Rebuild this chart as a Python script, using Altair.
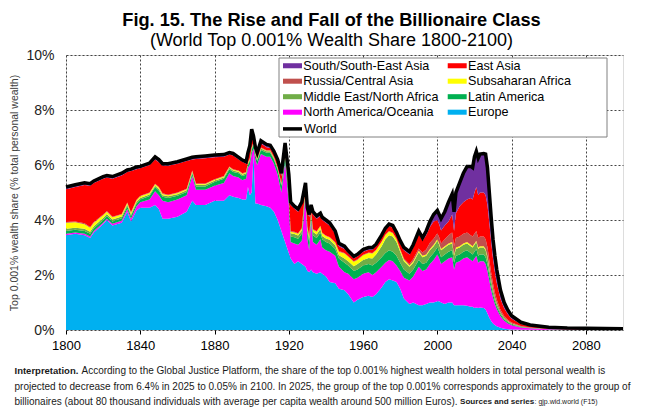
import altair as alt
import pandas as pd

# ---------------- data (share of total personal wealth, %) ----------------
years = [1800, 1805, 1810, 1813, 1815, 1820, 1822, 1825, 1830, 1833, 1835, 1838, 1840, 1845, 1848,
         1850, 1852, 1855, 1860, 1865, 1868, 1870, 1875, 1880, 1885, 1888, 1890, 1893, 1895, 1897,
         1898, 1899, 1900, 1901, 1902, 1903, 1905, 1908, 1910, 1912, 1914, 1916, 1918, 1920, 1921,
         1923, 1925, 1927, 1929, 1930, 1931, 1932, 1933, 1935, 1937, 1938, 1940, 1942, 1945, 1947,
         1950, 1952, 1955, 1957, 1960, 1963, 1965, 1967, 1970, 1972, 1974, 1976, 1978, 1980, 1982,
         1985, 1987, 1990, 1992, 1994, 1996, 1998, 2000, 2001, 2002, 2004, 2006, 2008, 2009, 2010,
         2012, 2014, 2016, 2018, 2019, 2020, 2021, 2022, 2023, 2025, 2026, 2027, 2028, 2029, 2030,
         2031, 2032, 2034, 2036, 2038, 2040, 2045, 2050, 2060, 2070, 2080, 2090, 2100]

europe = [3.45, 3.50, 3.45, 3.35, 3.55, 3.85, 4.00, 3.80, 3.90, 4.30, 3.95, 4.35, 4.45, 4.45, 4.55,
          4.40, 4.05, 4.05, 4.12, 4.30, 4.70, 4.55, 4.55, 4.70, 4.70, 4.90, 4.85, 4.80, 4.75, 4.75,
          5.20, 4.90, 5.00, 6.40, 4.60, 4.60, 4.55, 4.50, 4.45, 4.30, 4.00, 3.60, 3.20, 2.80, 2.60,
          2.40, 2.50, 2.40, 2.30, 2.15, 2.10, 2.20, 2.10, 2.05, 2.10, 2.05, 1.95, 1.75, 1.70, 1.50,
          1.45, 1.30, 1.00, 1.10, 1.20, 1.25, 1.20, 1.30, 1.55, 1.75, 1.85, 1.80, 1.75, 1.50, 1.15,
          0.95, 1.00, 0.90, 0.90, 0.95, 1.00, 1.00, 1.05, 1.05, 1.00, 0.95, 1.00, 1.00, 0.90, 0.90,
          0.90, 0.90, 0.88, 0.85, 0.85, 0.80, 0.82, 0.80, 0.82, 0.80, 0.75, 0.60, 0.45, 0.33, 0.24,
          0.18, 0.14, 0.08, 0.05, 0.03, 0.02, 0.01, 0.01, 0.00, 0.00, 0.00, 0.00, 0.00]

north_america = [0.05, 0.05, 0.05, 0.05, 0.05, 0.05, 0.05, 0.06, 0.07, 0.10, 0.10, 0.15, 0.20, 0.30, 0.50,
                 0.50, 0.65, 0.60, 0.63, 0.60, 0.90, 0.55, 0.55, 0.55, 0.65, 0.80, 0.75, 0.75, 0.70, 0.75,
                 0.70, 1.10, 1.40, 0.20, 1.60, 1.40, 1.85, 1.80, 1.85, 1.75, 1.65, 1.40, 2.90, 1.80, 0.60,
                 0.75, 0.60, 0.85, 2.60, 1.15, 0.80, 1.80, 1.10, 1.05, 1.20, 0.95, 0.95, 1.10, 1.00, 0.80,
                 0.65, 0.75, 0.85, 0.80, 0.85, 0.85, 0.80, 0.80, 0.75, 0.70, 0.70, 0.70, 0.60, 0.65, 0.75,
                 0.85, 0.95, 1.40, 1.25, 1.25, 1.40, 1.55, 1.70, 1.55, 1.40, 1.55, 1.60, 1.65, 1.30, 1.55,
                 1.60, 1.70, 1.77, 1.70, 1.65, 1.80, 1.88, 1.65, 1.68, 1.70, 1.65, 1.55, 1.35, 1.12, 0.92,
                 0.76, 0.62, 0.42, 0.29, 0.21, 0.15, 0.08, 0.05, 0.03, 0.02, 0.02, 0.02, 0.015]

latin_america = [0.10, 0.10, 0.10, 0.10, 0.10, 0.10, 0.10, 0.09, 0.09, 0.10, 0.10, 0.10, 0.10, 0.12, 0.15,
                 0.17, 0.15, 0.15, 0.13, 0.12, 0.10, 0.12, 0.12, 0.13, 0.15, 0.15, 0.15, 0.15, 0.15, 0.15,
                 0.10, 0.15, 0.15, 0.15, 0.15, 0.15, 0.15, 0.15, 0.15, 0.15, 0.18, 0.25, 0.25, 0.30, 0.20,
                 0.22, 0.22, 0.25, 0.15, 0.25, 0.30, 0.20, 0.25, 0.25, 0.25, 0.30, 0.30, 0.30, 0.25, 0.30,
                 0.35, 0.30, 0.30, 0.30, 0.30, 0.30, 0.35, 0.35, 0.35, 0.35, 0.35, 0.35, 0.35, 0.30, 0.30,
                 0.25, 0.25, 0.25, 0.25, 0.25, 0.25, 0.25, 0.25, 0.25, 0.25, 0.25, 0.25, 0.25, 0.25, 0.25,
                 0.25, 0.25, 0.25, 0.25, 0.25, 0.25, 0.25, 0.25, 0.25, 0.25, 0.25, 0.24, 0.21, 0.18, 0.15,
                 0.12, 0.10, 0.07, 0.05, 0.04, 0.03, 0.02, 0.01, 0.01, 0.00, 0.00, 0.00, 0.00]

mena = [0.08, 0.07, 0.08, 0.07, 0.07, 0.07, 0.07, 0.07, 0.07, 0.06, 0.05, 0.06, 0.05, 0.06, 0.05,
        0.06, 0.05, 0.06, 0.06, 0.06, 0.05, 0.06, 0.06, 0.05, 0.05, 0.05, 0.05, 0.05, 0.05, 0.05,
        0.05, 0.05, 0.05, 0.05, 0.05, 0.05, 0.05, 0.05, 0.05, 0.05, 0.05, 0.05, 0.05, 0.10, 0.12,
        0.12, 0.12, 0.12, 0.07, 0.12, 0.12, 0.08, 0.12, 0.12, 0.12, 0.12, 0.13, 0.13, 0.13, 0.12,
        0.15, 0.15, 0.17, 0.20, 0.20, 0.22, 0.25, 0.30, 0.40, 0.50, 0.55, 0.55, 0.50, 0.40, 0.30,
        0.25, 0.25, 0.28, 0.25, 0.25, 0.25, 0.25, 0.25, 0.25, 0.25, 0.25, 0.25, 0.25, 0.25, 0.25,
        0.25, 0.25, 0.25, 0.25, 0.25, 0.25, 0.25, 0.25, 0.25, 0.25, 0.25, 0.24, 0.21, 0.18, 0.15,
        0.12, 0.10, 0.07, 0.05, 0.04, 0.03, 0.02, 0.01, 0.01, 0.01, 0.00, 0.00, 0.00]

subsaharan = [0.22, 0.20, 0.17, 0.15, 0.13, 0.10, 0.08, 0.08, 0.07, 0.06, 0.06, 0.06, 0.06, 0.05, 0.05,
              0.05, 0.05, 0.04, 0.04, 0.04, 0.03, 0.03, 0.03, 0.03, 0.03, 0.03, 0.03, 0.03, 0.03, 0.03,
              0.03, 0.03, 0.03, 0.02, 0.02, 0.02, 0.02, 0.02, 0.02, 0.02, 0.02, 0.03, 0.03, 0.05, 0.05,
              0.06, 0.06, 0.06, 0.05, 0.08, 0.08, 0.05, 0.08, 0.10, 0.10, 0.10, 0.09, 0.08, 0.09, 0.13,
              0.18, 0.16, 0.16, 0.15, 0.17, 0.18, 0.18, 0.15, 0.15, 0.15, 0.13, 0.12, 0.10, 0.07, 0.06,
              0.05, 0.05, 0.05, 0.05, 0.05, 0.05, 0.05, 0.05, 0.05, 0.05, 0.05, 0.05, 0.05, 0.05, 0.05,
              0.05, 0.05, 0.05, 0.05, 0.05, 0.05, 0.05, 0.05, 0.05, 0.05, 0.05, 0.05, 0.04, 0.03, 0.03,
              0.02, 0.02, 0.01, 0.01, 0.01, 0.01, 0.00, 0.00, 0.00, 0.00, 0.00, 0.00, 0.00]

russia = [0.03, 0.03, 0.03, 0.03, 0.03, 0.03, 0.03, 0.02, 0.02, 0.02, 0.02, 0.02, 0.02, 0.02, 0.02,
          0.02, 0.02, 0.02, 0.02, 0.02, 0.02, 0.02, 0.02, 0.02, 0.02, 0.02, 0.02, 0.02, 0.02, 0.02,
          0.02, 0.02, 0.02, 0.02, 0.02, 0.02, 0.02, 0.02, 0.02, 0.02, 0.02, 0.02, 0.02, 0.02, 0.02,
          0.02, 0.02, 0.02, 0.02, 0.02, 0.02, 0.02, 0.02, 0.02, 0.02, 0.02, 0.02, 0.02, 0.02, 0.02,
          0.02, 0.02, 0.02, 0.02, 0.02, 0.02, 0.02, 0.02, 0.02, 0.02, 0.02, 0.02, 0.02, 0.02, 0.04,
          0.05, 0.08, 0.08, 0.12, 0.18, 0.22, 0.22, 0.22, 0.22, 0.20, 0.25, 0.30, 0.35, 0.30, 0.35,
          0.35, 0.35, 0.35, 0.35, 0.35, 0.35, 0.35, 0.35, 0.35, 0.35, 0.35, 0.33, 0.29, 0.24, 0.20,
          0.16, 0.13, 0.09, 0.06, 0.04, 0.03, 0.02, 0.01, 0.00, 0.00, 0.00, 0.00, 0.00]

east_asia = [1.19, 1.25, 1.39, 1.50, 1.42, 1.30, 1.22, 1.38, 1.40, 1.11, 1.50, 1.11, 1.00, 1.00, 0.88,
             0.90, 1.01, 1.05, 1.05, 1.01, 0.40, 0.89, 0.92, 0.80, 0.70, 0.43, 0.50, 0.40, 0.42, 0.30,
             0.25, 0.35, 0.50, 0.11, 0.11, 0.11, 0.14, 0.11, 0.08, 0.11, 0.18, 0.25, 0.25, 0.50, 0.96,
             0.85, 0.78, 0.85, 0.06, 0.58, 0.68, 0.10, 0.53, 0.46, 0.36, 0.46, 0.46, 0.42, 0.31, 0.18,
             0.15, 0.12, 0.10, 0.11, 0.11, 0.10, 0.12, 0.13, 0.16, 0.15, 0.18, 0.18, 0.16, 0.21, 0.30,
             0.35, 0.42, 0.54, 0.43, 0.52, 0.58, 0.63, 0.48, 0.48, 0.47, 0.50, 0.50, 0.65, 0.55, 0.90,
             1.10, 1.15, 1.20, 1.35, 1.35, 1.50, 1.60, 1.55, 1.60, 1.60, 1.60, 1.54, 1.35, 1.12, 0.90,
             0.75, 0.61, 0.40, 0.28, 0.20, 0.14, 0.07, 0.05, 0.03, 0.02, 0.02, 0.02, 0.02]

south_asia = [0.08, 0.08, 0.08, 0.07, 0.07, 0.08, 0.07, 0.08, 0.08, 0.07, 0.07, 0.08, 0.07, 0.07, 0.10,
              0.10, 0.07, 0.08, 0.07, 0.07, 0.08, 0.08, 0.08, 0.08, 0.08, 0.07, 0.07, 0.08, 0.06, 0.07,
              0.10, 0.10, 0.15, 0.10, 0.10, 0.10, 0.10, 0.10, 0.10, 0.10, 0.10, 0.10, 0.10, 0.10, 0.10,
              0.08, 0.10, 0.10, 0.10, 0.10, 0.10, 0.10, 0.10, 0.10, 0.10, 0.10, 0.10, 0.10, 0.10, 0.10,
              0.10, 0.08, 0.08, 0.07, 0.08, 0.08, 0.08, 0.07, 0.07, 0.08, 0.07, 0.08, 0.07, 0.10, 0.10,
              0.10, 0.10, 0.10, 0.10, 0.15, 0.20, 0.25, 0.35, 0.35, 0.43, 0.50, 0.70, 0.75, 0.70, 0.75,
              0.85, 1.05, 1.20, 1.15, 1.15, 1.30, 1.30, 1.35, 1.40, 1.42, 1.50, 1.35, 1.10, 0.90, 0.71,
              0.59, 0.48, 0.31, 0.21, 0.15, 0.11, 0.06, 0.04, 0.02, 0.02, 0.02, 0.015, 0.015]

# stacking order, bottom to top
stack_series = [
    ("Europe", europe),
    ("North America/Oceania", north_america),
    ("Latin America", latin_america),
    ("Middle East/North Africa", mena),
    ("Subsaharan Africa", subsaharan),
    ("Russia/Central Asia", russia),
    ("East Asia", east_asia),
    ("South/South-East Asia", south_asia),
]

legend_order = ["South/South-East Asia", "East Asia", "Russia/Central Asia", "Subsaharan Africa",
                "Middle East/North Africa", "Latin America", "North America/Oceania", "Europe"]
legend_colors = ["#7030A0", "#FF0000", "#C0504D", "#FFFF00",
                 "#70AD47", "#00B050", "#FF00FF", "#00B0F0"]

x_ticks = list(range(1800, 2101, 20))
y_ticks = [0, 2, 4, 6, 8, 10]

title_text = "Fig. 15. The Rise and Fall of the Billionaire Class"
subtitle_text = "(World Top 0.001% Wealth Share 1800-2100)"
y_title = "Top 0.001% wealth share (% total personal wealth)"

note1_bold = "Interpretation."
note1_rest = "According to the Global Justice Platform, the share of the top 0.001% highest wealth holders in total personal wealth is"
note2 = "projected to decrease from 6.4% in 2025 to 0.05% in 2100. In 2025, the group of the top 0.001% corresponds approximately to the group of"
note3_a = "billionaires (about 80 thousand individuals with average per capita wealth around 500 million Euros)."
note3_bold = "Sources and series"
note3_c = ": gjp.wid.world (F15)"

# ---------------- build table ----------------
rows = []
for rank, (name, vals) in enumerate(stack_series):
    for yr, v in zip(years, vals):
        rows.append({"year": yr, "region": name, "value": v, "rank": rank})
df = pd.DataFrame(rows)

FONT = "Liberation Sans"

x_scale = alt.Scale(domain=[1800, 2100], nice=False, zero=False)
y_scale = alt.Scale(domain=[0, 10], nice=False)

x_axis = alt.Axis(values=x_ticks, format="d", title=None, labelFontSize=13, labelColor="black",
                  labelPadding=5, tickSize=4, tickColor="black", labelOverlap=False, labelFlush=False,
                  grid=True, gridDash=[2, 2], gridColor="#444444", gridWidth=1, domain=False)
y_axis = alt.Axis(values=y_ticks, labelExpr="datum.value + '%'", title=y_title, labelFontSize=14,
                  labelColor="#222222", labelPadding=12, tickSize=0, grid=True, gridDash=[2, 2],
                  gridColor="#444444", gridWidth=1, domain=False, titleFontSize=10.5,
                  titleFontWeight="normal", titleColor="#404040", titleX=-52, titleY=137.5,
                  titleAngle=270, titleAlign="center", titleBaseline="middle")

areas = alt.Chart(df).mark_area(interpolate="linear").encode(
    x=alt.X("year:Q", scale=x_scale, axis=x_axis),
    y=alt.Y("value:Q", stack="zero", scale=y_scale, axis=y_axis),
    color=alt.Color("region:N", scale=alt.Scale(domain=legend_order, range=legend_colors),
                    legend=alt.Legend(title=None, orient="none", legendX=220.2, legendY=4.4,
                                      columns=2, direction="horizontal",
                                      symbolType="M-1.58,-0.42L1.58,-0.42L1.58,0.42L-1.58,0.42Z",
                                      symbolSize=144, symbolStrokeWidth=0, labelFontSize=12.6,
                                      labelFont=FONT, labelColor="black", labelOffset=4.5,
                                      columnPadding=7.7, rowPadding=2.5, padding=0, labelLimit=200)),
    order=alt.Order("rank:Q", sort="ascending"),
)

world = alt.Chart(df).transform_aggregate(
    total="sum(value)", groupby=["year"]
).transform_calculate(series="'World'").mark_line(strokeWidth=3.5, interpolate="linear").encode(
    x=alt.X("year:Q", scale=x_scale),
    y=alt.Y("total:Q", scale=y_scale, title=y_title),
    stroke=alt.Stroke("series:N", scale=alt.Scale(domain=["World"], range=["black"]),
                      legend=alt.Legend(title=None, orient="none", legendX=215, legendY=62.4,
                                        symbolType="stroke", symbolSize=361, symbolStrokeWidth=3.5,
                                        labelFontSize=12.6, labelFont=FONT, labelColor="black",
                                        labelOffset=0, padding=0)),
)

one = pd.DataFrame({"k": [0]})
box = alt.Chart(one).mark_rect(fill="white", stroke="#808080", strokeWidth=1).encode(
    x=alt.value(213), x2=alt.value(541), y=alt.value(3), y2=alt.value(82)
)

def note(text, x, y, size, bold=False):
    return alt.Chart(one).mark_text(text=text, align="left", baseline="middle", font=FONT,
                                    fontSize=size, fontWeight="bold" if bold else "normal",
                                    color="#1a1a1a").encode(x=alt.value(x), y=alt.value(y))

notes = [
    note(note1_bold, -51.5, 315.7, 9.5, True),
    note(note1_rest, 15.5, 315.7, 10.0),
    note(note2, -51.5, 331.5, 10.0),
    note(note3_a, -51.5, 346.5, 10.0),
    note(note3_bold, 394, 346.5, 8.1, True),
    note(note3_c, 468.5, 346.5, 7.0),
]

chart = alt.layer(areas, world, box, *notes).properties(
    width=557, height=275,
    autosize=alt.AutoSizeParams(type="none"),
    padding={"left": 58, "top": 47, "right": 12, "bottom": 78},
    title=alt.TitleParams(text=title_text, subtitle=subtitle_text, font=FONT, subtitleFont=FONT,
                          fontSize=18.2, subtitleFontSize=18, fontWeight="bold", color="black",
                          subtitleColor="black", anchor="middle", dx=-13, offset=-3,
                          subtitlePadding=2),
).configure_view(stroke="black", strokeWidth=1.5).configure(font=FONT)

chart.save("out.html", embed_options={"renderer": "svg", "actions": False})
